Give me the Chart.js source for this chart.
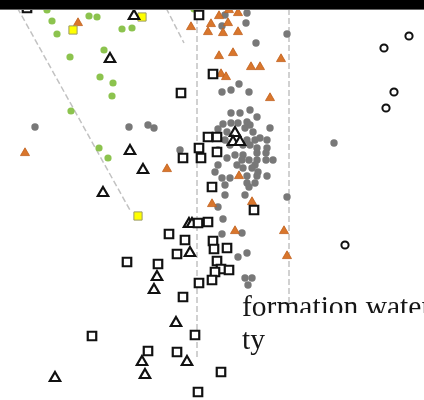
<!DOCTYPE html>
<html>
<head>
<meta charset="utf-8">
<script src="https://cdn.jsdelivr.net/npm/chart.js@4"></script>
<style>
  html, body { margin: 0; padding: 0; background: #fff; }
  #wrap { position: relative; width: 424px; height: 400px; overflow: hidden; }
  #topbar { position: absolute; left: 0; top: 0; width: 424px; height: 9px; background: #000; border-bottom: 1px solid #666; }
  .lbl { position: absolute; left: 242px; font-family: "Liberation Serif", "DejaVu Serif", serif; font-size: 29.5px; line-height: 29.5px; color: #161616; white-space: nowrap; }
  #mask { position: absolute; left: 267px; top: 313px; width: 170px; height: 8px; background: #fff; }
</style>
</head>
<body>
<div id="wrap">
  <canvas id="plot" width="424" height="400"></canvas>
  <div id="topbar"></div>
  <div class="lbl" style="top:292px">formation water</div>
  <div id="mask"></div>
  <div class="lbl" style="top:325px">ty</div>
</div>
<script>
// values (x right, y down)
const grayPts = [
  [225,15],[247,13],[222,26],[246,23],[287,34],[256,43],[239,84],[231,90],[222,92],[249,92],
  [35,127],[129,127],[148,125],[154,128],[180,150],[334,143],
  [231,113],[240,113],[250,110],[257,117],[270,128],[223,124],[231,123],[238,123],[247,122],[250,125],
  [218,129],[245,128],[227,132],[253,132],[225,140],[247,140],[255,140],[267,140],[260,138],
  [230,145],[243,145],[250,145],[257,148],[267,148],[218,150],[257,153],[266,153],[235,155],[243,155],
  [227,158],[242,160],[249,160],[257,160],[266,160],[273,160],[218,165],[237,165],[255,165],
  [243,168],[252,168],[215,172],[258,172],[247,176],[257,176],[267,176],[222,178],[230,178],
  [247,183],[255,183],[225,185],[249,187],[225,195],[245,195],[287,197],[218,207],[223,219],
  [242,233],[222,234],[238,257],[247,253],[245,278],[252,278],[248,285]
];
const orangePts = [
  [78,23],[191,27],[219,16],[238,13],[229,10],[211,24],[228,23],[208,32],[223,33],[238,32],
  [219,56],[233,53],[281,59],[251,67],[260,67],[221,74],[226,77],[270,98],[25,153],[167,169],
  [239,176],[212,204],[252,202],[235,231],[284,231],[287,256]
];
const squarePts = [
  [27,8],[199,15],[213,74],[181,93],[208,137],[217,137],[199,148],[217,152],[183,158],[201,158],
  [212,187],[254,210],[198,223],[208,222],[169,234],[185,240],[213,241],[214,249],[227,248],
  [177,254],[217,261],[221,269],[229,270],[215,272],[127,262],[158,264],[199,283],[212,280],
  [183,297],[92,336],[195,335],[148,351],[177,352],[221,372],[198,392]
];
const openTriPts = [
  [134,16],[110,59],[130,151],[143,170],[103,193],[235,133],[233,142],[240,142],[189,224],
  [192,224],[190,253],[157,277],[154,290],[176,323],[142,362],[187,362],[145,375],[55,378]
];
const greenPts = [
  [47,10],[89,16],[97,17],[52,21],[57,34],[122,29],[132,28],[104,50],[70,57],[100,77],
  [113,83],[112,96],[71,111],[99,148],[108,158],[194,9]
];
const yellowPts = [[73,30],[142,17],[138,216]];
const ringPts = [[409,36],[384,48],[394,92],[386,108],[345,245]];

// dashed guide lines
const guideA = [[13,0],[131,212]];
const guideB = [[162,0],[184,43]];
const guideC = [[197,0],[197,358]];
const guideD = [[289,0],[289,308]];

const xy = (arr) => arr.map((p) => ({ x: p[0], y: p[1] }));

function pts(data, style, radius, fill, stroke, bw) {
  return {
    type: "scatter",
    data: xy(data),
    pointStyle: style,
    pointRadius: radius,
    pointBackgroundColor: fill,
    pointBorderColor: stroke,
    pointBorderWidth: bw,
    clip: false,
    order: 1,
  };
}

function guide(data) {
  return {
    type: "line",
    data: xy(data),
    showLine: true,
    borderColor: "#c2c2c2",
    borderWidth: 1.5,
    borderDash: [6, 3],
    pointRadius: 0,
    fill: false,
    clip: false,
    order: 10,
  };
}

new Chart(document.getElementById("plot"), {
  type: "scatter",
  data: {
    datasets: [
      pts(ringPts, "circle", 3.6, "#fff", "#111", 2),
      pts(squarePts, "rect", 6, "#fff", "#111", 2.2),
      pts(openTriPts, "triangle", 6, "#fff", "#111", 2.2),
      pts(yellowPts, "rect", 5.8, "#ffff00", "#9a9a6a", 1),
      pts(orangePts, "triangle", 5.2, "#d9762c", "#c0601c", 0.8),
      pts(greenPts, "circle", 3.6, "#8cc34e", "#8cc34e", 0),
      pts(grayPts, "circle", 3.7, "#787878", "#787878", 0),
      guide(guideA),
      guide(guideB),
      guide(guideC),
      guide(guideD),
    ],
  },
  options: {
    responsive: false,
    animation: false,
    devicePixelRatio: 1,
    layout: { padding: 0, autoPadding: false },
    plugins: { legend: { display: false }, tooltip: { enabled: false } },
    scales: {
      x: { type: "linear", min: 0, max: 424, display: false },
      y: { type: "linear", min: 0, max: 400, reverse: true, display: false },
    },
  },
});
</script>
</body>
</html>
